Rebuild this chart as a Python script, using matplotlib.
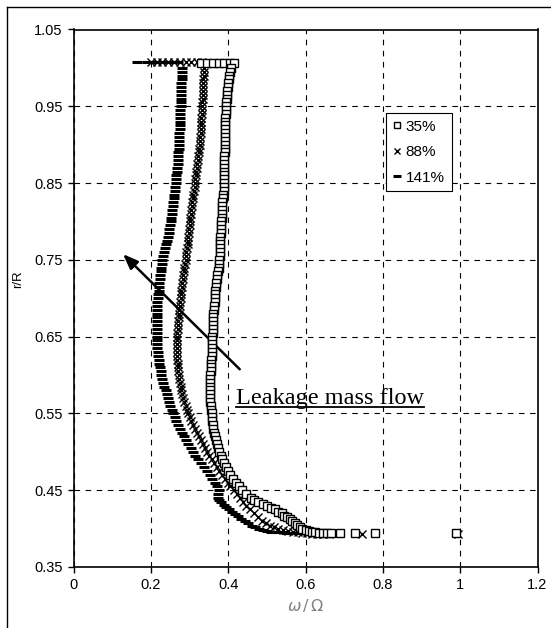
import matplotlib
matplotlib.use("Agg")
import matplotlib.pyplot as plt
from matplotlib.lines import Line2D

## 데이터 (그림에서 읽은 값, (w/Omega, r/R) 쌍)
labels = ["35%", "88%", "141%"]

# 35%
pts35 = [
    (0.33, 1.007), (0.345, 1.007), (0.36, 1.007), (0.375, 1.007), (0.39, 1.007), (0.405, 1.007), (0.415, 1.007),
    (0.407, 1.000), (0.405, 0.995), (0.403, 0.990), (0.401, 0.985), (0.400, 0.980), (0.399, 0.975),
    (0.398, 0.970), (0.397, 0.965), (0.396, 0.960), (0.395, 0.955), (0.395, 0.950), (0.394, 0.945),
    (0.394, 0.940), (0.393, 0.935), (0.393, 0.930), (0.392, 0.925), (0.392, 0.920), (0.392, 0.915),
    (0.392, 0.910), (0.391, 0.905), (0.391, 0.900), (0.391, 0.895), (0.391, 0.890), (0.390, 0.885),
    (0.390, 0.880), (0.390, 0.875), (0.390, 0.870), (0.389, 0.865), (0.389, 0.860), (0.389, 0.855),
    (0.389, 0.850), (0.388, 0.845), (0.388, 0.840), (0.387, 0.835), (0.386, 0.830), (0.385, 0.825),
    (0.384, 0.820), (0.384, 0.815), (0.383, 0.810), (0.383, 0.805), (0.382, 0.800), (0.382, 0.795),
    (0.381, 0.790), (0.381, 0.785), (0.380, 0.780), (0.380, 0.775), (0.379, 0.770), (0.379, 0.765),
    (0.378, 0.760), (0.378, 0.755), (0.377, 0.750), (0.376, 0.745), (0.375, 0.740), (0.374, 0.735),
    (0.372, 0.730), (0.371, 0.725), (0.369, 0.720), (0.368, 0.715), (0.367, 0.710), (0.366, 0.705),
    (0.365, 0.700), (0.365, 0.695), (0.364, 0.690), (0.363, 0.685), (0.362, 0.680), (0.362, 0.675),
    (0.361, 0.670), (0.361, 0.665), (0.360, 0.660), (0.360, 0.655), (0.359, 0.650), (0.359, 0.645),
    (0.358, 0.640), (0.358, 0.635), (0.357, 0.630), (0.357, 0.625), (0.356, 0.620), (0.356, 0.615),
    (0.355, 0.610), (0.355, 0.605), (0.354, 0.600), (0.354, 0.595), (0.353, 0.590), (0.353, 0.585),
    (0.353, 0.580), (0.353, 0.575), (0.354, 0.570), (0.354, 0.565), (0.355, 0.560), (0.356, 0.555),
    (0.357, 0.550), (0.358, 0.545), (0.359, 0.540), (0.360, 0.535), (0.362, 0.530), (0.364, 0.525),
    (0.366, 0.520), (0.368, 0.515), (0.371, 0.510), (0.374, 0.505), (0.377, 0.500), (0.381, 0.495),
    (0.385, 0.490), (0.390, 0.485), (0.395, 0.480), (0.400, 0.475), (0.406, 0.470), (0.413, 0.465),
    (0.420, 0.460), (0.428, 0.455), (0.437, 0.450), (0.447, 0.445), (0.458, 0.440), (0.468, 0.437),
    (0.478, 0.435), (0.489, 0.432), (0.500, 0.430), (0.510, 0.427), (0.520, 0.425), (0.529, 0.422),
    (0.538, 0.420), (0.545, 0.417), (0.552, 0.415), (0.559, 0.412), (0.565, 0.410), (0.572, 0.407),
    (0.578, 0.405), (0.585, 0.402), (0.592, 0.400), (0.600, 0.398), (0.608, 0.397), (0.616, 0.396),
    (0.625, 0.395), (0.635, 0.394), (0.645, 0.394), (0.655, 0.394), (0.665, 0.394), (0.690, 0.394),
    (0.727, 0.394), (0.780, 0.394), (0.990, 0.394),
]

# 88%
pts88 = [
    (0.200, 1.008), (0.215, 1.008), (0.230, 1.008), (0.245, 1.008), (0.260, 1.008), (0.275, 1.008),
    (0.290, 1.008), (0.305, 1.008), (0.320, 1.008), (0.333, 1.008),
    (0.337, 1.000), (0.337, 0.995), (0.337, 0.990), (0.336, 0.985), (0.336, 0.980), (0.335, 0.975),
    (0.335, 0.970), (0.334, 0.965), (0.334, 0.960), (0.333, 0.955), (0.333, 0.950), (0.332, 0.945),
    (0.332, 0.940), (0.331, 0.935), (0.331, 0.930), (0.330, 0.925), (0.330, 0.920), (0.329, 0.915),
    (0.328, 0.910), (0.327, 0.905), (0.326, 0.900), (0.325, 0.895), (0.324, 0.890), (0.323, 0.885),
    (0.322, 0.880), (0.320, 0.875), (0.319, 0.870), (0.318, 0.865), (0.317, 0.860), (0.315, 0.855),
    (0.314, 0.850), (0.313, 0.845), (0.312, 0.840), (0.310, 0.835), (0.309, 0.830), (0.307, 0.825),
    (0.306, 0.820), (0.304, 0.815), (0.303, 0.810), (0.302, 0.805), (0.301, 0.800), (0.300, 0.795),
    (0.299, 0.790), (0.298, 0.785), (0.297, 0.780), (0.296, 0.775), (0.295, 0.770), (0.293, 0.765),
    (0.292, 0.760), (0.291, 0.755), (0.290, 0.750), (0.288, 0.745), (0.287, 0.740), (0.285, 0.735),
    (0.284, 0.730), (0.282, 0.725), (0.281, 0.720), (0.280, 0.715), (0.279, 0.710), (0.278, 0.705),
    (0.277, 0.700), (0.276, 0.695), (0.275, 0.690), (0.274, 0.685), (0.273, 0.680), (0.272, 0.675),
    (0.271, 0.670), (0.270, 0.665), (0.269, 0.660), (0.268, 0.655), (0.268, 0.650), (0.267, 0.645),
    (0.267, 0.640), (0.267, 0.635), (0.267, 0.630), (0.267, 0.625), (0.268, 0.620), (0.269, 0.615),
    (0.270, 0.610), (0.271, 0.605), (0.272, 0.600), (0.273, 0.595), (0.275, 0.590), (0.277, 0.585),
    (0.279, 0.580), (0.281, 0.575), (0.284, 0.570), (0.287, 0.565), (0.290, 0.560), (0.293, 0.555),
    (0.297, 0.550), (0.301, 0.545), (0.305, 0.540), (0.309, 0.535), (0.314, 0.530), (0.319, 0.525),
    (0.324, 0.520), (0.329, 0.515), (0.334, 0.510), (0.339, 0.505), (0.345, 0.500), (0.351, 0.495),
    (0.357, 0.490), (0.363, 0.485), (0.370, 0.480), (0.377, 0.475), (0.384, 0.470), (0.391, 0.465),
    (0.399, 0.460), (0.406, 0.455), (0.414, 0.450), (0.422, 0.445), (0.430, 0.440), (0.438, 0.435),
    (0.447, 0.430), (0.456, 0.425), (0.466, 0.420), (0.477, 0.415), (0.488, 0.410), (0.497, 0.407),
    (0.507, 0.404), (0.518, 0.402), (0.530, 0.400), (0.542, 0.398), (0.555, 0.397), (0.567, 0.396),
    (0.580, 0.395), (0.592, 0.394), (0.605, 0.394), (0.617, 0.393), (0.630, 0.393), (0.645, 0.393),
    (0.660, 0.393), (0.745, 0.393), (0.995, 0.393),
]

# 141%
pts141 = [
    (0.165, 1.008), (0.190, 1.008), (0.210, 1.008), (0.230, 1.008), (0.250, 1.008), (0.270, 1.008),
    (0.281, 1.000), (0.281, 0.995), (0.280, 0.990), (0.280, 0.985), (0.279, 0.980), (0.278, 0.975),
    (0.278, 0.970), (0.277, 0.965), (0.277, 0.960), (0.277, 0.955), (0.277, 0.950), (0.276, 0.945),
    (0.276, 0.940), (0.275, 0.935), (0.275, 0.930), (0.275, 0.925), (0.275, 0.920), (0.274, 0.915),
    (0.274, 0.910), (0.273, 0.905), (0.273, 0.900), (0.272, 0.895), (0.271, 0.890), (0.271, 0.885),
    (0.270, 0.880), (0.269, 0.875), (0.268, 0.870), (0.267, 0.865), (0.266, 0.860), (0.265, 0.855),
    (0.264, 0.850), (0.263, 0.845), (0.262, 0.840), (0.261, 0.835), (0.260, 0.830), (0.258, 0.825),
    (0.257, 0.820), (0.256, 0.815), (0.255, 0.810), (0.253, 0.805), (0.252, 0.800), (0.250, 0.795),
    (0.248, 0.790), (0.246, 0.785), (0.244, 0.780), (0.241, 0.775), (0.239, 0.770), (0.236, 0.765),
    (0.234, 0.760), (0.232, 0.755), (0.230, 0.750), (0.228, 0.745), (0.227, 0.740), (0.225, 0.735),
    (0.224, 0.730), (0.223, 0.725), (0.222, 0.720), (0.221, 0.715), (0.220, 0.710), (0.219, 0.705),
    (0.218, 0.700), (0.217, 0.695), (0.217, 0.690), (0.216, 0.685), (0.216, 0.680), (0.215, 0.675),
    (0.215, 0.670), (0.215, 0.665), (0.215, 0.660), (0.215, 0.655), (0.215, 0.650), (0.215, 0.645),
    (0.216, 0.640), (0.217, 0.635), (0.218, 0.630), (0.219, 0.625), (0.220, 0.620), (0.221, 0.615),
    (0.223, 0.610), (0.225, 0.605), (0.227, 0.600), (0.229, 0.595), (0.232, 0.590), (0.235, 0.585),
    (0.238, 0.580), (0.241, 0.575), (0.244, 0.570), (0.247, 0.565), (0.250, 0.560), (0.254, 0.555),
    (0.258, 0.550), (0.262, 0.545), (0.266, 0.540), (0.270, 0.535), (0.275, 0.530), (0.280, 0.525),
    (0.285, 0.520), (0.291, 0.515), (0.297, 0.510), (0.303, 0.505), (0.309, 0.500), (0.315, 0.495),
    (0.322, 0.490), (0.329, 0.485), (0.337, 0.480), (0.344, 0.475), (0.352, 0.470), (0.359, 0.465),
    (0.366, 0.460), (0.371, 0.455), (0.375, 0.450), (0.374, 0.445), (0.373, 0.440), (0.376, 0.437),
    (0.382, 0.434), (0.388, 0.431), (0.395, 0.428), (0.402, 0.425), (0.410, 0.422), (0.418, 0.419),
    (0.426, 0.416), (0.434, 0.413), (0.443, 0.410), (0.452, 0.407), (0.461, 0.404), (0.470, 0.402),
    (0.480, 0.400), (0.490, 0.398), (0.500, 0.397), (0.510, 0.396), (0.520, 0.396), (0.530, 0.395),
    (0.540, 0.395), (0.550, 0.394), (0.560, 0.394), (0.570, 0.394), (0.580, 0.394), (0.590, 0.394),
    (0.600, 0.394),
]

xticks = [0, 0.2, 0.4, 0.6, 0.8, 1, 1.2]
xtick_labels = ["0", "0.2", "0.4", "0.6", "0.8", "1", "1.2"]
yticks = [0.35, 0.45, 0.55, 0.65, 0.75, 0.85, 0.95, 1.05]

w35, r35 = zip(*pts35)
w88, r88 = zip(*pts88)
w141, r141 = zip(*pts141)

## 그래프
plt.rcParams["font.family"] = ["Liberation Sans", "DejaVu Sans"]

W, H = 551, 628
fig = plt.figure(figsize=(W / 100, H / 100), dpi=100)
ax = fig.add_axes([73.5 / W, 1 - 567 / H, (537.5 - 73.5) / W, (567 - 29.5) / H])

# 바깥 테두리 (왼쪽, 위쪽)
fig.add_artist(Line2D([7.3 / W, 7.3 / W], [0, 1 - 6.7 / H], transform=fig.transFigure, color="black", lw=1))
fig.add_artist(Line2D([7.3 / W, 1], [1 - 6.7 / H, 1 - 6.7 / H], transform=fig.transFigure, color="black", lw=1))

ax.plot(w141, r141, ls="none", marker="_", ms=7, mew=2.2, color="black", label=labels[2], zorder=3)
ax.plot(w88, r88, ls="none", marker="x", ms=5.8, mew=1.0, color="black", label=labels[1], zorder=4)
ax.plot(w35, r35, ls="none", marker="s", ms=5.3, mew=1.0, mfc="white", mec="black", label=labels[0], zorder=5)

ax.set_xlim(0, 1.2)
ax.set_ylim(0.35, 1.05)
ax.set_xticks(xticks)
ax.set_xticklabels(xtick_labels)
ax.set_yticks(yticks)
ax.set_yticklabels(["{:.2f}".format(v) for v in yticks])
ax.tick_params(direction="out", length=4, width=1, labelsize=10.5, pad=4)
ax.grid(True, color="black", ls=(0, (5, 5)), lw=0.8)
ax.set_axisbelow(True)
for s in ax.spines.values():
    s.set_linewidth(1.2)

ax.set_xlabel(r"$\omega\,/\,\Omega$", color="gray", fontsize=11.5, labelpad=4, family="DejaVu Serif")
ax.set_ylabel("r/R", fontsize=9.5)
ax.yaxis.set_label_coords(-0.107, 0.535)

# 범례
handles, lbls = ax.get_legend_handles_labels()
order = [2, 1, 0]
leg = ax.legend([handles[i] for i in order], [lbls[i] for i in order],
                loc="upper left", bbox_to_anchor=(0.6735, 0.845), fontsize=11,
                frameon=True, fancybox=False, edgecolor="black", framealpha=1,
                handlelength=0.5, handletextpad=0.35, borderpad=0.45, labelspacing=0.75,
                markerscale=0.8, borderaxespad=0)
leg.get_frame().set_linewidth(0.8)

# 화살표 + 글자
ax.annotate("", xy=(0.123, 0.760), xytext=(0.435, 0.605),
            arrowprops=dict(arrowstyle="-|>,head_length=0.9,head_width=0.35", color="black", lw=1.8))
txt = ax.text(0.42, 0.562, "Leakage mass flow", family="Liberation Serif", fontsize=17.5,
              ha="left", va="baseline")

fig.canvas.draw()
bb = txt.get_window_extent().transformed(ax.transData.inverted())
ax.plot([bb.x0, bb.x1], [0.5585, 0.5585], color="black", lw=1.3, clip_on=False)

plt.savefig("out.png", dpi=100)
